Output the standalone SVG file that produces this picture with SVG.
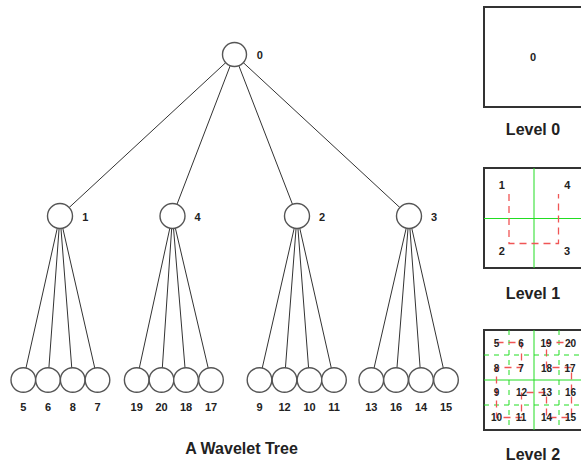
<svg xmlns="http://www.w3.org/2000/svg" width="581" height="466" viewBox="0 0 581 466">
<style>
.edge{stroke:#333;stroke-width:1;fill:none}
.node{fill:#fff;stroke:#555;stroke-width:1.4}
.lbl{font-family:"Liberation Sans",Arial,sans-serif;font-weight:bold;font-size:11px;fill:#222;text-anchor:middle}
.sm{font-size:10px}
.big{font-size:16px}
.box{fill:#fff;stroke:#333;stroke-width:2}
.g{stroke:#22dd22;stroke-width:1;fill:none}
.gd{stroke:#22dd22;stroke-width:1;stroke-dasharray:5,5;fill:none}
.rd{stroke:#f05555;stroke-width:1.3;stroke-dasharray:7,5;fill:none}
</style>
<rect width="581" height="466" fill="#fff"/>
<g id="connectors">
<line class="edge" x1="234.5" y1="54.5" x2="60" y2="216"/>
<line class="edge" x1="234.5" y1="54.5" x2="172.5" y2="216"/>
<line class="edge" x1="234.5" y1="54.5" x2="297" y2="216"/>
<line class="edge" x1="234.5" y1="54.5" x2="409" y2="216"/>
<line class="edge" x1="60" y1="216" x2="23.3" y2="380"/>
<line class="edge" x1="60" y1="216" x2="48" y2="380"/>
<line class="edge" x1="60" y1="216" x2="72.7" y2="380"/>
<line class="edge" x1="60" y1="216" x2="97.5" y2="380"/>
<line class="edge" x1="172.5" y1="216" x2="136.7" y2="380"/>
<line class="edge" x1="172.5" y1="216" x2="161.5" y2="380"/>
<line class="edge" x1="172.5" y1="216" x2="186" y2="380"/>
<line class="edge" x1="172.5" y1="216" x2="211" y2="380"/>
<line class="edge" x1="297" y1="216" x2="259.5" y2="380"/>
<line class="edge" x1="297" y1="216" x2="284.5" y2="380"/>
<line class="edge" x1="297" y1="216" x2="309.5" y2="380"/>
<line class="edge" x1="297" y1="216" x2="334" y2="380"/>
<line class="edge" x1="409" y1="216" x2="371.3" y2="380"/>
<line class="edge" x1="409" y1="216" x2="396" y2="380"/>
<line class="edge" x1="409" y1="216" x2="421" y2="380"/>
<line class="edge" x1="409" y1="216" x2="446" y2="380"/>
</g>
<g id="n0"><circle class="node" cx="234.5" cy="54.5" r="12"/><text class="lbl" x="259.7" y="58.5">0</text></g>
<g id="n1"><circle class="node" cx="60" cy="216" r="12.5"/><text class="lbl" x="85.3" y="220.5">1</text></g>
<g id="n4"><circle class="node" cx="172.5" cy="216" r="12.5"/><text class="lbl" x="197.5" y="220.5">4</text></g>
<g id="n2"><circle class="node" cx="297" cy="216" r="12.5"/><text class="lbl" x="322" y="220.5">2</text></g>
<g id="n3"><circle class="node" cx="409" cy="216" r="12.5"/><text class="lbl" x="434" y="220.5">3</text></g>
<g id="n5"><circle class="node" cx="23.3" cy="380" r="12.3"/><text class="lbl" x="23.3" y="411">5</text></g>
<g id="n6"><circle class="node" cx="48" cy="380" r="12.3"/><text class="lbl" x="48" y="411">6</text></g>
<g id="n8"><circle class="node" cx="72.7" cy="380" r="12.3"/><text class="lbl" x="72.7" y="411">8</text></g>
<g id="n7"><circle class="node" cx="97.5" cy="380" r="12.3"/><text class="lbl" x="97.5" y="411">7</text></g>
<g id="n19"><circle class="node" cx="136.7" cy="380" r="12.3"/><text class="lbl" x="136.7" y="411">19</text></g>
<g id="n20"><circle class="node" cx="161.5" cy="380" r="12.3"/><text class="lbl" x="161.5" y="411">20</text></g>
<g id="n18"><circle class="node" cx="186" cy="380" r="12.3"/><text class="lbl" x="186" y="411">18</text></g>
<g id="n17"><circle class="node" cx="211" cy="380" r="12.3"/><text class="lbl" x="211" y="411">17</text></g>
<g id="n9"><circle class="node" cx="259.5" cy="380" r="12.3"/><text class="lbl" x="259.5" y="411">9</text></g>
<g id="n12"><circle class="node" cx="284.5" cy="380" r="12.3"/><text class="lbl" x="284.5" y="411">12</text></g>
<g id="n10"><circle class="node" cx="309.5" cy="380" r="12.3"/><text class="lbl" x="309.5" y="411">10</text></g>
<g id="n11"><circle class="node" cx="334" cy="380" r="12.3"/><text class="lbl" x="334" y="411">11</text></g>
<g id="n13"><circle class="node" cx="371.3" cy="380" r="12.3"/><text class="lbl" x="371.3" y="411">13</text></g>
<g id="n16"><circle class="node" cx="396" cy="380" r="12.3"/><text class="lbl" x="396" y="411">16</text></g>
<g id="n14"><circle class="node" cx="421" cy="380" r="12.3"/><text class="lbl" x="421" y="411">14</text></g>
<g id="n15"><circle class="node" cx="446" cy="380" r="12.3"/><text class="lbl" x="446" y="411">15</text></g>
<text class="lbl big" x="241.5" y="454">A Wavelet Tree</text>
<g id="level0">
<rect class="box" x="484" y="7" width="100" height="100"/>
<text class="lbl" x="533" y="61">0</text>
<text class="lbl big" x="533" y="135">Level 0</text>
</g>
<g id="level1">
<rect class="box" x="484" y="168" width="100" height="100"/>
<line class="g" x1="534" y1="168" x2="534" y2="268"/>
<line class="g" x1="484" y1="218.5" x2="584" y2="218.5"/>
<path class="rd" d="M509 194V243.5H558.5V194"/>
<text class="lbl" x="501.7" y="189">1</text>
<text class="lbl" x="567.3" y="189">4</text>
<text class="lbl" x="501.7" y="255">2</text>
<text class="lbl" x="567" y="255">3</text>
<text class="lbl big" x="533" y="299">Level 1</text>
</g>
<g id="level2">
<rect class="box" x="484" y="330" width="100" height="100"/>
<line class="gd" x1="509" y1="330" x2="509" y2="430"/>
<line class="gd" x1="559" y1="330" x2="559" y2="430"/>
<line class="gd" x1="484" y1="355" x2="584" y2="355"/>
<line class="gd" x1="484" y1="405" x2="584" y2="405"/>
<line class="g" x1="534" y1="330" x2="534" y2="430"/>
<line class="g" x1="484" y1="380" x2="584" y2="380"/>
<path class="rd" d="M496.5 342.5H521.5V367.5H496.5V417.5H521.5V392.5H546.5V417.5H571.5V367.5H546.5V342.5H571.5"/>
<g class="lbl sm">
<text x="496.5" y="346.5">5</text><text x="521" y="346.5">6</text><text x="546" y="346.5">19</text><text x="570.5" y="346.5">20</text>
<text x="496.5" y="371.5">8</text><text x="521" y="371.5">7</text><text x="546.5" y="371.5">18</text><text x="570" y="371.5">17</text>
<text x="496.5" y="396">9</text><text x="521.5" y="396">12</text><text x="546.5" y="396">13</text><text x="570.5" y="396">16</text>
<text x="496.5" y="421">10</text><text x="521" y="421">11</text><text x="546.5" y="421">14</text><text x="570.5" y="421">15</text>
</g>
<text class="lbl big" x="533" y="460">Level 2</text>
</g>
</svg>
